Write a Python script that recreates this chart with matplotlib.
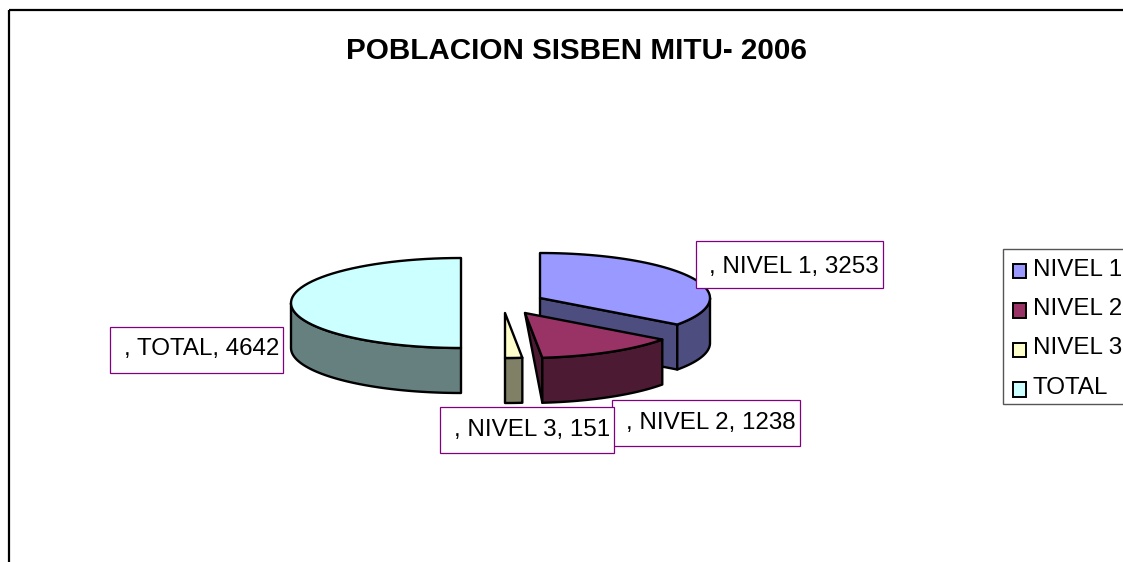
import numpy as np
import matplotlib
matplotlib.use("Agg")
import matplotlib.pyplot as plt
from matplotlib.patches import Polygon, Rectangle

plt.rcParams['font.family'] = ['Liberation Sans', 'DejaVu Sans']

categories = ["NIVEL 1", "NIVEL 2", "NIVEL 3", "TOTAL"]
values = [3253, 1238, 151, 4642]
top_colors = ["#9999FF", "#993366", "#FFFFCC", "#CCFFFF"]
side_colors = ["#4D4D80", "#4D1A33", "#808066", "#668080"]
title = "POBLACION SISBEN MITU- 2006"

# layout (pixels)
centers = [(540, 298), (525, 313), (505, 313), (461, 303)]
rx, ry, depth = 170, 45, 45
label_boxes = [(696, 241, 883, 288), (612, 400, 800, 446),
               (440, 407, 614, 453), (110, 327, 283, 373)]
label_pad = [13, 14, 14, 14]
label_dy = [2, 0, 0, -1]

fig = plt.figure(figsize=(11.23, 5.62), dpi=100)
ax = fig.add_axes([0, 0, 1, 1])
ax.set_xlim(0, 1123)
ax.set_ylim(562, 0)
ax.axis("off")

# outer frame
ax.add_patch(Rectangle((9, 10), 1300, 800, fill=False, ec="black", lw=1.6, zorder=1))
ax.text(576.5, 51, title, ha="center", va="center", fontsize=21.3, fontweight="bold", color="black", zorder=9)


def rim(c, a, b, n=60):
    t = np.radians(np.linspace(a, b, n))
    return np.column_stack([c[0] + rx * np.sin(t), c[1] - ry * np.cos(t)])


def down(p):
    return p + np.array([0, depth])


def poly(pts, color, z):
    ax.add_patch(Polygon(pts, closed=True, fc=color, ec="black", lw=1.7, joinstyle="round", zorder=z))


fractions = np.array(values) / sum(values) * 360
ends = np.cumsum(fractions)
starts = ends - fractions
order = [3, 0, 1, 2]
for i in order:
    a, b = starts[i], ends[i]
    c = np.array(centers[i], float)
    z = 3 + i if i != 3 else 2
    # side walls: straight cut faces
    if i == 0:
        e = rim(c, b, b, 1)
        poly(np.vstack([c, e, down(e), down(c[None])]), side_colors[i], z)
    if i == 1:
        e = rim(c, b, b, 1)
        poly(np.vstack([c, e, down(e)]), side_colors[i], z)
    # outer rim wall: visible front part
    lo, hi = max(a, 90), min(b, 270)
    if hi > lo:
        r = rim(c, lo, hi)
        poly(np.vstack([r, down(r)[::-1]]), side_colors[i], z)
    poly(np.vstack([c, rim(c, a, b)]), top_colors[i], z + 0.5)

# data labels
for i, (x0, y0, x1, y1) in enumerate(label_boxes):
    ax.add_patch(Rectangle((x0, y0), x1 - x0, y1 - y0, fc="white", ec="#800080", lw=0.9, zorder=10))
    ax.text(x0 + label_pad[i], (y0 + y1) / 2 + label_dy[i], f", {categories[i]}, {values[i]}",
            ha="left", va="center", fontsize=17.4, color="black", zorder=11)

# legend
ax.add_patch(Rectangle((1003, 249), 130, 155, fc="white", ec="#555555", lw=1.0, zorder=11))
handles = [Rectangle((0, 0), 1, 1, fc=c, ec="black", lw=1.4) for c in top_colors]
leg = ax.legend(handles, categories, loc="upper left", bbox_to_anchor=(1003, 249),
                bbox_transform=ax.transData, borderaxespad=0, fontsize=17.4,
                frameon=False, borderpad=0.4, labelspacing=0.72,
                handlelength=0.54, handleheight=0.54, handletextpad=0.3)
for p in leg.get_patches():
    p.set_y(p.get_y() - 3)
leg.set_zorder(12)

fig.savefig("out.png", dpi=100, facecolor="white")
